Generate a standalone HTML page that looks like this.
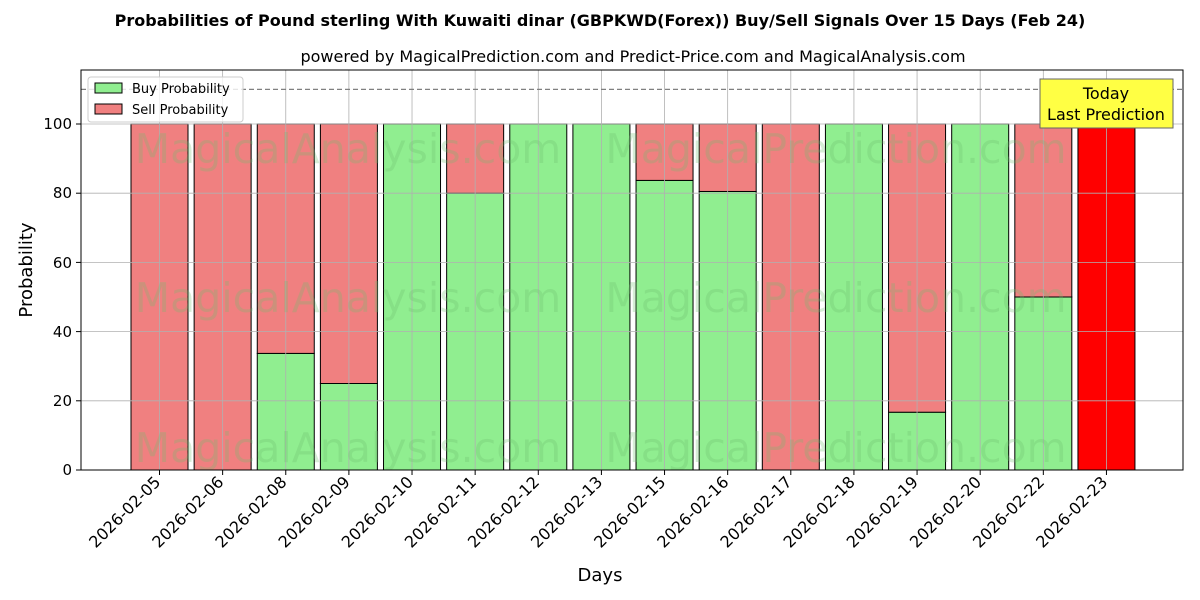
<!DOCTYPE html>
<html><head><meta charset="utf-8"><style>body{margin:0;background:#fff}svg{display:block}text{font-family:"DejaVu Sans","Liberation Sans",sans-serif}</style></head><body>
<svg width="1200" height="600" viewBox="0 0 1200 600" xmlns="http://www.w3.org/2000/svg">
<rect width="1200" height="600" fill="#fff"/>
<text x="600" y="26" text-anchor="middle" font-size="16" font-weight="bold">Probabilities of Pound sterling With Kuwaiti dinar (GBPKWD(Forex)) Buy/Sell Signals Over 15 Days (Feb 24)</text>
<text x="633" y="62" text-anchor="middle" font-size="16">powered by MagicalPrediction.com and Predict-Price.com and MagicalAnalysis.com</text>
<g id="bars" stroke="#000" stroke-width="1"></g>
<g id="grid" stroke="#b0b0b0" stroke-width="0.8">
<line x1="81" x2="1183" y1="470" y2="470"/><line x1="81" x2="1183" y1="400.8" y2="400.8"/><line x1="81" x2="1183" y1="331.6" y2="331.6"/><line x1="81" x2="1183" y1="262.4" y2="262.4"/><line x1="81" x2="1183" y1="193.2" y2="193.2"/><line x1="81" x2="1183" y1="124" y2="124"/>
</g>
<g id="vg" stroke="#b0b0b0" stroke-width="0.8"></g>
<g font-size="41" fill="#6fbf6f" opacity="0.28" text-anchor="middle">
<text x="348" y="163">MagicalAnalysis.com</text><text x="836" y="163">MagicalPrediction.com</text>
<text x="348" y="312">MagicalAnalysis.com</text><text x="836" y="312">MagicalPrediction.com</text>
<text x="348" y="462">MagicalAnalysis.com</text><text x="836" y="462">MagicalPrediction.com</text>
</g>
<line x1="81" x2="1183" y1="89.4" y2="89.4" stroke="#808080" stroke-width="1.2" stroke-dasharray="5,3"/>
<rect x="81" y="70" width="1102" height="400" fill="none" stroke="#000" stroke-width="1"/>
<g font-size="15" text-anchor="end">
<text x="72" y="475">0</text><text x="72" y="406">20</text><text x="72" y="337">40</text><text x="72" y="268">60</text><text x="72" y="198">80</text><text x="72" y="129">100</text>
</g>
<g stroke="#000"><line x1="76" x2="81" y1="470" y2="470"/><line x1="76" x2="81" y1="400.8" y2="400.8"/><line x1="76" x2="81" y1="331.6" y2="331.6"/><line x1="76" x2="81" y1="262.4" y2="262.4"/><line x1="76" x2="81" y1="193.2" y2="193.2"/><line x1="76" x2="81" y1="124" y2="124"/></g>
<g id="xl" font-size="16" text-anchor="end"></g>
<text x="600" y="581" text-anchor="middle" font-size="18">Days</text>
<text transform="translate(32,270) rotate(-90)" text-anchor="middle" font-size="18">Probability</text>
<rect x="88" y="77" width="155" height="45" rx="3" fill="#fff" fill-opacity="0.8" stroke="#ccc"/>
<rect x="95" y="83" width="27" height="10" fill="#90ee90" stroke="#000"/>
<text x="132" y="93" font-size="13">Buy Probability</text>
<rect x="95" y="104" width="27" height="10" fill="#f08080" stroke="#000"/>
<text x="132" y="114" font-size="13">Sell Probability</text>
<rect x="1040" y="79" width="133" height="49" fill="#ffff44" stroke="#666"/>
<text x="1106" y="99" text-anchor="middle" font-size="16">Today</text>
<text x="1106" y="120" text-anchor="middle" font-size="16">Last Prediction</text>
<script>
var buy=[0,0,33.7,25,100,80,100,100,83.7,80.5,0,100,16.7,100,50,0];
var d=["2026-02-05","2026-02-06","2026-02-08","2026-02-09","2026-02-10","2026-02-11","2026-02-12","2026-02-13","2026-02-15","2026-02-16","2026-02-17","2026-02-18","2026-02-19","2026-02-20","2026-02-22","2026-02-23"];
var ns="http://www.w3.org/2000/svg",b=document.getElementById("bars"),v=document.getElementById("vg"),xl=document.getElementById("xl");
function el(p,t,a){var e=document.createElementNS(ns,t);for(var k in a)e.setAttribute(k,a[k]);p.appendChild(e);return e;}
for(var i=0;i<16;i++){var c=159.5+63.13*i,s=3.46;
el(v,"line",{x1:c,x2:c,y1:70,y2:470});
var yb=470-buy[i]*s;
if(buy[i]>0)el(b,"rect",{x:c-28.5,y:yb,width:57,height:buy[i]*s,fill:"#90ee90"});
if(buy[i]<100)el(b,"rect",{x:c-28.5,y:124,width:57,height:yb-124,fill:i==15?"#ff0000":"#f08080"});
el(xl,"line",{x1:c,x2:c,y1:470,y2:475,stroke:"#000"});
var t=el(xl,"text",{transform:"translate("+(c+2)+",483) rotate(-45)"});t.textContent=d[i];}
</script>
</svg>
</body></html>
